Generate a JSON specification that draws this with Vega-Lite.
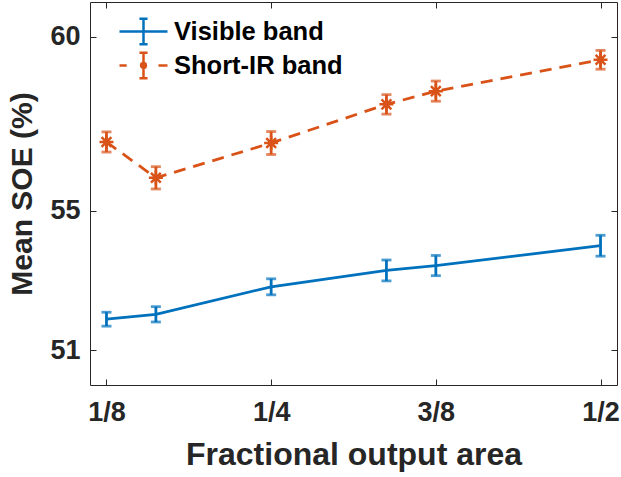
{
  "$schema": "https://vega.github.io/schema/vega-lite/v6.json",
  "width": 527,
  "height": 383,
  "autosize": {"type": "none"},
  "padding": {"left": 90, "top": 2, "right": 4, "bottom": 92},
  "background": "white",
  "config": {
    "view": {"stroke": null},
    "font": "Liberation Sans",
    "axis": {
      "domainColor": "#262626",
      "domainWidth": 1,
      "tickColor": "#262626",
      "tickWidth": 1,
      "tickSize": -6,
      "grid": false,
      "labelFont": "Liberation Sans",
      "labelFontWeight": "bold",
      "labelFontSize": 27,
      "labelColor": "#262626",
      "titleFont": "Liberation Sans",
      "titleFontWeight": "bold",
      "titleFontSize": 30,
      "titleColor": "#262626"
    },
    "legend": {
      "orient": "none",
      "legendX": 28,
      "legendY": 14,
      "labelFont": "Liberation Sans",
      "labelFontWeight": "bold",
      "labelFontSize": 25.5,
      "labelColor": "#000000",
      "labelLimit": 0,
      "symbolSize": 900,
      "symbolStrokeWidth": 2.5,
      "labelOffset": 23,
      "rowPadding": 3,
      "clipHeight": 31,
      "title": null
    }
  },
  "data": {
    "values": [
      {"series": "Visible band", "x": 0.125, "y": 51.89, "lo": 51.69, "hi": 52.09},
      {"series": "Visible band", "x": 0.1625, "y": 52.03, "lo": 51.81, "hi": 52.25},
      {"series": "Visible band", "x": 0.25, "y": 52.82, "lo": 52.59, "hi": 53.05},
      {"series": "Visible band", "x": 0.3375, "y": 53.29, "lo": 52.99, "hi": 53.59},
      {"series": "Visible band", "x": 0.375, "y": 53.43, "lo": 53.14, "hi": 53.72},
      {"series": "Visible band", "x": 0.5, "y": 54.0, "lo": 53.7, "hi": 54.3},
      {"series": "Short-IR band", "x": 0.125, "y": 56.98, "lo": 56.69, "hi": 57.27},
      {"series": "Short-IR band", "x": 0.1625, "y": 55.95, "lo": 55.63, "hi": 56.27},
      {"series": "Short-IR band", "x": 0.25, "y": 56.95, "lo": 56.62, "hi": 57.28},
      {"series": "Short-IR band", "x": 0.3375, "y": 58.06, "lo": 57.78, "hi": 58.34},
      {"series": "Short-IR band", "x": 0.375, "y": 58.44, "lo": 58.15, "hi": 58.73},
      {"series": "Short-IR band", "x": 0.5, "y": 59.34, "lo": 59.07, "hi": 59.61}
    ]
  },
  "resolve": {"axis": {"x": "independent", "y": "independent"}},
  "layer": [
    {
      "transform": [{"filter": "datum.series == 'Visible band'"}],
      "mark": {"type": "line", "strokeWidth": 2.8, "color": "#0072BD"},
      "encoding": {
        "x": {
          "field": "x", "type": "quantitative",
          "scale": {"domain": [0.1125, 0.5125], "nice": false, "zero": false},
          "axis": {
            "orient": "bottom",
            "values": [0.125, 0.25, 0.375, 0.5],
            "labelExpr": "datum.value == 0.125 ? '1/8' : datum.value == 0.25 ? '1/4' : datum.value == 0.375 ? '3/8' : '1/2'",
            "labelPadding": 20,
            "title": "Fractional output area",
            "titlePadding": 14,
            "titleFontSize": 32
          }
        },
        "y": {
          "field": "y", "type": "quantitative",
          "scale": {"domain": [50, 61], "nice": false, "zero": false},
          "axis": {
            "orient": "left",
            "values": [51, 55, 60],
            "labelPadding": 16,
            "title": "Mean SOE (%)",
            "titlePadding": 12
          }
        }
      }
    },
    {
      "transform": [{"filter": "datum.series == 'Short-IR band'"}],
      "mark": {"type": "line", "strokeWidth": 2.8, "color": "#D95319", "strokeDash": [12, 8]},
      "encoding": {
        "x": {"field": "x", "type": "quantitative", "axis": null},
        "y": {"field": "y", "type": "quantitative", "axis": null}
      }
    },
    {
      "transform": [{"filter": "datum.series == 'Visible band'"}],
      "mark": {"type": "errorbar", "color": "#0072BD", "thickness": 2.8, "ticks": {"size": 10, "thickness": 2.8}},
      "encoding": {
        "x": {
          "field": "x", "type": "quantitative",
          "axis": {"orient": "top", "values": [0.125, 0.25, 0.375, 0.5], "labels": false, "title": null}
        },
        "y": {
          "field": "lo", "type": "quantitative",
          "axis": {"orient": "right", "values": [51, 55, 60], "labels": false, "title": null}
        },
        "y2": {"field": "hi"}
      }
    },
    {
      "transform": [{"filter": "datum.series == 'Short-IR band'"}],
      "mark": {"type": "errorbar", "color": "#D95319", "thickness": 2.8, "ticks": {"size": 10, "thickness": 2.8}},
      "encoding": {
        "x": {"field": "x", "type": "quantitative", "axis": null},
        "y": {"field": "lo", "type": "quantitative", "axis": null},
        "y2": {"field": "hi"}
      }
    },
    {
      "transform": [{"filter": "datum.series == 'Short-IR band'"}],
      "mark": {"type": "point", "filled": false, "strokeWidth": 2.5, "size": 196, "opacity": 1, "color": "#D95319", "shape": "M-1,0H1M0,-1V1M-0.7,-0.7L0.7,0.7M-0.7,0.7L0.7,-0.7"},
      "encoding": {
        "x": {"field": "x", "type": "quantitative", "axis": null},
        "y": {"field": "y", "type": "quantitative", "axis": null}
      }
    },
    {
      "mark": {"type": "point", "filled": false, "strokeWidth": 2.5, "opacity": 0},
      "encoding": {
        "x": {"field": "x", "type": "quantitative", "axis": null},
        "y": {"field": "y", "type": "quantitative", "axis": null},
        "color": {
          "field": "series", "type": "nominal",
          "scale": {"domain": ["Visible band", "Short-IR band"], "range": ["#0072BD", "#D95319"]},
          "legend": {"title": null}
        },
        "shape": {
          "field": "series", "type": "nominal",
          "scale": {
            "domain": ["Visible band", "Short-IR band"],
            "range": [
              "M-1,0H2.2M0.6,-0.85V0.85M0.33,-0.85H0.87M0.33,0.85H0.87",
              "M-1,0H-0.52M1.6,0H2.2M0.6,-0.85V0.85M0.33,-0.85H0.87M0.33,0.85H0.87M0.76,0A0.16,0.16 0 1,1 0.44,0A0.16,0.16 0 1,1 0.76,0"
            ]
          },
          "legend": {"title": null}
        }
      }
    }
  ]
}
